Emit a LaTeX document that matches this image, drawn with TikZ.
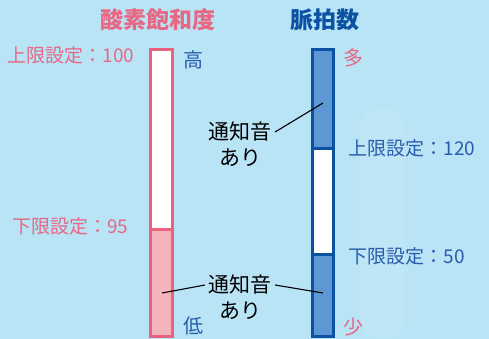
\documentclass[tikz,border=0pt]{standalone}
\usepackage{fontspec}
\setmainfont{Noto Sans CJK JP}
\usepackage{tikz}
\usetikzlibrary{positioning}
\definecolor{skyedge}{RGB}{184,228,246}
\definecolor{skymid}{RGB}{214,241,251}
\definecolor{pinkline}{RGB}{236,98,126}
\definecolor{pinkfill}{RGB}{243,180,188}
\definecolor{pinktext}{RGB}{232,104,132}
\definecolor{blueline}{RGB}{12,82,162}
\definecolor{bluefill}{RGB}{94,152,212}
\definecolor{bluetext}{RGB}{42,92,172}
\tikzset{heading/.style={inner sep=0pt,font=\bfseries\fontsize{23}{23}\selectfont},
  limit/.style={inner sep=0pt,font=\fontsize{19}{19}\selectfont},
  endword/.style={inner sep=0pt,font=\fontsize{20}{20}\selectfont},
  note/.style={inner sep=3pt,font=\fontsize{21}{21}\selectfont},
  bar/.style={line width=3pt}}

\begin{document}
\begin{tikzpicture}[x=1pt, y=-1pt, line width=1.1pt]
        \useasboundingbox (0,0) rectangle (489,338);
        \shade[left color=skyedge, middle color=skymid, right color=skyedge] (0,0) rectangle (489,338);
        \fill[white, opacity=0.1, rounded corners=20pt] (360,110) rectangle (405,338);
        % bars
        \draw[bar, pinkline, fill=white] (150,49) rectangle (172,229);
        \draw[bar, pinkline, fill=pinkfill] (150,229) rectangle (172,336);
        \draw[bar, blueline, fill=bluefill] (312,49) rectangle (333,148);
        \draw[bar, blueline, fill=white] (312,148) rectangle (333,254);
        \draw[bar, blueline, fill=bluefill] (312,254) rectangle (333,336);
        \coordinate (spo2) at (162,293);
        \coordinate (pulsehi) at (323,103);
        \coordinate (pulselo) at (323,293);
        % labels
        \node[heading, pinktext] (spo2title) at (158,20) {酸素飽和度};
        \node[heading, blueline] (pulsetitle) at (325,20) {脈拍数};
        \node[limit, pinktext, anchor=east] (spo2up) at (135,55) {上限設定：100};
        \node[limit, pinktext, anchor=east] (spo2down) at (129,226) {下限設定：95};
        \node[limit, bluetext, anchor=west] (pulseup) at (348,148) {上限設定：120};
        \node[limit, bluetext, anchor=west] (pulsedown) at (348,256) {下限設定：50};
        \node[endword, bluetext] (high) at (193,60) {高};
        \node[endword, bluetext] (low) at (193,326) {低};
        \node[endword, pinktext] (many) at (353,58) {多};
        \node[endword, pinktext] (few) at (353,327) {少};
        % notes
        \node[note] (hitone) at (240,132) {通知音};
        \node[note, below=0pt of hitone] (hiari) {あり};
        \node[note] (lotone) at (240,285) {通知音};
        \node[note, below=0pt of lotone] (loari) {あり};
        \path (hitone.east) edge (pulsehi);
        \path (lotone.west) edge (spo2);
        \path (lotone.east) edge (pulselo);
\end{tikzpicture}
\end{document}
